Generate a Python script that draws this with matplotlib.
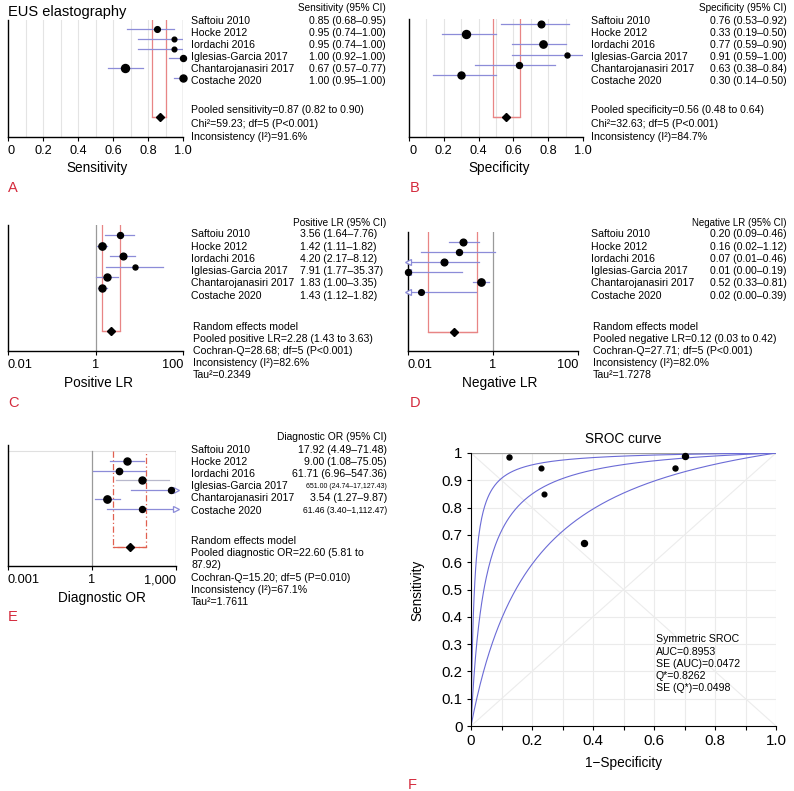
import numpy as np
import matplotlib
matplotlib.use("Agg")
import matplotlib.pyplot as plt

plt.rcParams['font.family'] = ['Liberation Sans', 'DejaVu Sans']

W, H = 794, 791

studies = ["Saftoiu 2010", "Hocke 2012", "Iordachi 2016", "Iglesias-Garcia 2017",
           "Chantarojanasiri 2017", "Costache 2020"]

sens = [0.85, 0.95, 0.95, 1.00, 0.67, 1.00]
sens_lo = [0.68, 0.74, 0.74, 0.92, 0.57, 0.95]
sens_hi = [0.95, 1.00, 1.00, 1.00, 0.77, 1.00]
sens_pool = [0.87, 0.82, 0.90]

spec = [0.76, 0.33, 0.77, 0.91, 0.63, 0.30]
spec_lo = [0.53, 0.19, 0.59, 0.59, 0.38, 0.14]
spec_hi = [0.92, 0.50, 0.90, 1.00, 0.84, 0.50]
spec_pool = [0.56, 0.48, 0.64]

plr = [3.56, 1.42, 4.20, 7.91, 1.83, 1.43]
plr_lo = [1.64, 1.11, 2.17, 1.77, 1.00, 1.12]
plr_hi = [7.76, 1.82, 8.12, 35.37, 3.35, 1.82]
plr_pool = [2.28, 1.43, 3.63]

nlr = [0.20, 0.16, 0.07, 0.01, 0.52, 0.02]
nlr_lo = [0.09, 0.02, 0.01, 0.00, 0.33, 0.00]
nlr_hi = [0.46, 1.12, 0.46, 0.19, 0.81, 0.39]
nlr_pool = [0.12, 0.03, 0.42]

dor = [17.92, 9.00, 61.71, 651.00, 3.54, 61.46]
dor_lo = [4.49, 1.08, 6.96, 24.74, 1.27, 3.40]
dor_hi = [71.48, 75.05, 547.36, 17127.43, 9.87, 1112.47]
dor_pool = [22.60, 5.81, 87.92]

# points on the SROC plot (1-specificity, sensitivity) as drawn
sroc_fpr = [0.24, 0.67, 0.23, 0.125, 0.37, 0.70]
sroc_tpr = [0.85, 0.945, 0.946, 0.987, 0.67, 0.99]

# study weights shown as marker diameters (px)
w_sens = [5.7, 4.7, 4.7, 6, 8, 7]
w_spec = [6.7, 8, 7.3, 5, 6, 7]
w_plr = [6, 7.3, 6.7, 5, 7, 7]
w_nlr = [6.7, 6, 6.7, 6, 7.3, 5.7]
w_dor = [7, 6.3, 7, 6, 7.3, 6]
w_sroc = [4.7, 5, 4.7, 5, 6, 6]

CI = '#8c8cd8'
RED = '#e88585'
LETTER = '#d42a3c'
PXPT = 0.72  # px -> points at dpi 100

fig = plt.figure(figsize=(W / 100, H / 100), dpi=100)


def T(x, y, s, **kw):
    kw.setdefault('va', 'center')
    kw.setdefault('fontsize', 7.6)
    return fig.text(x / W, 1 - y / H, s, **kw)


def forest(rect, xlim, log, est, lo, hi, size, pool, y0, dy, pool_y,
           ticks, ticklabels, line_top=None, pool_ls='-', pool_color=RED,
           grid=None, null=None, ci_colors=None):
    l, t, r, b = rect
    ax = fig.add_axes([l / W, 1 - b / H, (r - l) / W, (b - t) / H])
    if log:
        ax.set_xscale('log')
    ax.set_xlim(*xlim)
    ax.set_ylim(b, t)
    if line_top is None:
        line_top = t
    if grid is not None:
        for g in grid:
            ax.plot([g, g], [t, b], color='#e4e4e4', lw=0.8, zorder=0)
    if null is not None:
        for n in null:
            ax.plot([n, n], [line_top, b], color='#9a9a9a', lw=0.9, zorder=1)
    # pooled estimate box
    ax.plot([pool[1], pool[1], pool[2], pool[2]], [line_top, pool_y, pool_y, line_top],
            color=pool_color, lw=0.9, ls=pool_ls, zorder=1)
    ax.plot([pool[1], pool[2]], [pool_y, pool_y], color=pool_color, lw=0.9, zorder=1)
    ax.plot([pool[0]], [pool_y], marker='D', color='black', ms=4, zorder=4)
    for i in range(len(est)):
        y = y0 + i * dy
        c = CI if ci_colors is None else ci_colors[i]
        a = max(lo[i], xlim[0])
        z = min(hi[i], xlim[1])
        ax.plot([a, z], [y, y], color=c, lw=0.9, zorder=2)
        if log and lo[i] <= xlim[0]:
            ax.plot([xlim[0]], [y], marker='<', ms=5, mfc='white', mec=c, mew=0.9,
                    clip_on=False, zorder=3)
        if log and hi[i] > xlim[1]:
            ax.plot([xlim[1]], [y], marker='>', ms=5, mfc='white', mec=c, mew=0.9,
                    clip_on=False, zorder=3)
        ax.plot([min(est[i], xlim[1]) if not log else max(est[i], xlim[0])], [y],
                marker='o', color='black', ms=size[i] * PXPT, clip_on=False, zorder=5)
    for s in ['top', 'right']:
        ax.spines[s].set_visible(False)
    for s in ['left', 'bottom']:
        ax.spines[s].set_linewidth(1.0)
    ax.set_yticks([])
    ax.minorticks_off()
    ax.set_xticks(ticks)
    ax.set_xticklabels(ticklabels)
    ax.tick_params(axis='x', direction='out', length=3, width=0.8, labelsize=9.2, pad=3)
    labs = ax.get_xticklabels()
    labs[0].set_ha('left')
    if log:
        labs[-1].set_ha('right')
    return ax


lin_ticks = [0, 0.2, 0.4, 0.6, 0.8, 1.0]
lin_labels = ['0', '0.2', '0.4', '0.6', '0.8', '1.0']
grid01 = [i / 10 for i in range(1, 11)]


def fmt(v, l, h):
    return f"{v:,.2f} ({l:,.2f}\u2013{h:,.2f})"


def study_block(xn, xv, y0, dy, vals, lo, hi, ha='right', sizes=None):
    for i, s in enumerate(studies):
        T(xn, y0 + i * dy, s)
        fs = 7.6 if sizes is None else sizes[i]
        T(xv, y0 + i * dy, fmt(vals[i], lo[i], hi[i]), ha=ha, fontsize=fs)


NARROW = ['Liberation Sans Narrow', 'Liberation Sans']

# ---------- A: sensitivity
T(8, 12, 'EUS elastography', fontsize=10.5)
forest((8, 20, 183, 137), (0, 1), False, sens, sens_lo, sens_hi, w_sens, sens_pool,
       29, 9.8, 117, lin_ticks, lin_labels, grid=grid01, null=[1.0])
T(386, 8, 'Sensitivity (95% CI)', ha='right', fontsize=7.2)
study_block(191, 386, 20.7, 12.06, sens, sens_lo, sens_hi)
T(191, 110, 'Pooled sensitivity=0.87 (0.82 to 0.90)')
T(191, 124, 'Chi\u00b2=59.23; df=5 (P<0.001)')
T(191, 137, 'Inconsistency (I\u00b2)=91.6%')
T(97, 168, 'Sensitivity', ha='center', fontsize=9.8)
T(8, 188, 'A', color=LETTER, fontsize=10.5, family=NARROW)

# ---------- B: specificity
forest((409, 19, 583, 137), (0, 1), False, spec, spec_lo, spec_hi, w_spec, spec_pool,
       24, 10.2, 117, lin_ticks, lin_labels, grid=grid01)
T(787, 8, 'Specificity (95% CI)', ha='right', fontsize=7.2)
study_block(591, 787, 20.7, 12.06, spec, spec_lo, spec_hi)
T(591, 110, 'Pooled specificity=0.56 (0.48 to 0.64)')
T(591, 124, 'Chi\u00b2=32.63; df=5 (P<0.001)')
T(591, 137, 'Inconsistency (I\u00b2)=84.7%')
T(499, 168, 'Specificity', ha='center', fontsize=9.8)
T(410, 188, 'B', color=LETTER, fontsize=10.5, family=NARROW)

# ---------- C: positive LR
forest((8, 225, 183, 351), (0.01, 100), True, plr, plr_lo, plr_hi, w_plr, plr_pool,
       235, 10.6, 331, [0.01, 1, 100], ['0.01', '1', '100'], null=[1])
T(386, 223, 'Positive LR (95% CI)', ha='right', fontsize=7.2)
study_block(191, 300, 234.3, 12.3, plr, plr_lo, plr_hi, ha='left')
for k, s in enumerate(['Random effects model', 'Pooled positive LR=2.28 (1.43 to 3.63)',
                       'Cochran-Q=28.68; df=5 (P<0.001)', 'Inconsistency (I\u00b2)=82.6%',
                       'Tau\u00b2=0.2349']):
    T(193, 327 + k * 12, s)
T(99, 383, 'Positive LR', ha='center', fontsize=9.8)
T(8, 403, 'C', color=LETTER, fontsize=10.5, family=NARROW)

# ---------- D: negative LR
forest((408, 232, 578, 351), (0.01, 100), True, nlr, nlr_lo, nlr_hi, w_nlr, nlr_pool,
       242, 10, 332, [0.01, 1, 100], ['0.01', '1', '100'], null=[1])
T(787, 223, 'Negative LR (95% CI)', ha='right', fontsize=7.0)
study_block(591, 787, 234.3, 12.3, nlr, nlr_lo, nlr_hi)
for k, s in enumerate(['Random effects model', 'Pooled negative LR=0.12 (0.03 to 0.42)',
                       'Cochran-Q=27.71; df=5 (P<0.001)', 'Inconsistency (I\u00b2)=82.0%',
                       'Tau\u00b2=1.7278']):
    T(593, 327 + k * 12, s)
T(500, 383, 'Negative LR', ha='center', fontsize=9.8)
T(410, 403, 'D', color=LETTER, fontsize=10.5, family=NARROW)

# ---------- E: diagnostic OR
axE = forest((8, 445, 176, 566), (0.001, 1000), True, dor, dor_lo, dor_hi, w_dor, dor_pool,
             461, 9.6, 547, [0.001, 1, 1000], ['0.001', '1', '1,000'], line_top=451,
             pool_ls=(0, (5, 2, 1, 2)), pool_color='#e06050', null=[1, 1000],
             ci_colors=[CI, CI, '#b8b8cc', CI, CI, CI])
axE.plot([0.001, 1000], [451, 451], color='#e0e0e0', lw=0.8, zorder=0)
T(387, 437, 'Diagnostic OR (95% CI)', ha='right', fontsize=7.4)
study_block(191, 387, 450, 12.1, dor, dor_lo, dor_hi, sizes=[7.6, 7.6, 7.6, 5.0, 7.6, 6.2])
for k, s in enumerate(['Random effects model', 'Pooled diagnostic OR=22.60 (5.81 to', '87.92)',
                       'Cochran-Q=15.20; df=5 (P=0.010)', 'Inconsistency (I\u00b2)=67.1%',
                       'Tau\u00b2=1.7611']):
    T(191, 541.3 + k * 12.1, s)
T(102, 598, 'Diagnostic OR', ha='center', fontsize=9.8)
T(8, 617, 'E', color=LETTER, fontsize=10.5, family=NARROW)

# ---------- F: SROC curve
l, t, r, b = 471, 453, 776, 726
axF = fig.add_axes([l / W, 1 - b / H, (r - l) / W, (b - t) / H])
axF.set_xlim(0, 1)
axF.set_ylim(0, 1)
for g in np.arange(1, 11) / 10:
    axF.axvline(g, color='#ebebeb', lw=0.8, zorder=0)
    axF.axhline(g, color='#ebebeb', lw=0.8, zorder=0)
axF.plot([0, 1], [0, 1], color='#ececec', lw=0.8, zorder=0)
axF.plot([0, 1], [1, 0], color='#ececec', lw=0.8, zorder=0)
axF.axhline(1, color='#a0a0a0', lw=0.9, zorder=1)
# symmetric SROC for the pooled DOR and its 95% CI bounds
fpr = np.linspace(0, 1, 400)
for d in [dor_pool[2], dor_pool[0], dor_pool[1]]:
    tpr = d * fpr / (1 - fpr + d * fpr)
    axF.plot(fpr, tpr, color='#6b6bd6', lw=0.8, zorder=2)
for i in range(len(sroc_fpr)):
    axF.plot(sroc_fpr[i], sroc_tpr[i], marker='o', color='black', ms=w_sroc[i] * PXPT,
             clip_on=False, zorder=5)
for s in ['top', 'right']:
    axF.spines[s].set_visible(False)
axF.set_xticks(np.arange(0, 11) / 10)
axF.set_xticklabels(['0', '', '0.2', '', '0.4', '', '0.6', '', '0.8', '', '1.0'])
axF.set_yticks(np.arange(0, 11) / 10)
axF.set_yticklabels(['0', '0.1', '0.2', '0.3', '0.4', '0.5', '0.6', '0.7', '0.8', '0.9', '1'])
axF.tick_params(direction='out', length=3, width=0.8, labelsize=10.8, pad=3)
T(623.5, 439, 'SROC curve', ha='center', fontsize=9.8)
T(623.5, 763, '1\u2212Specificity', ha='center', fontsize=9.8)
T(417, 590, 'Sensitivity', ha='center', rotation=90, fontsize=9.8)
for k, s in enumerate(['Symmetric SROC', 'AUC=0.8953', 'SE (AUC)=0.0472', 'Q*=0.8262',
                       'SE (Q*)=0.0498']):
    T(656, 639.3 + k * 12.25, s)
T(408, 785, 'F', color=LETTER, fontsize=10.5, family=NARROW)

fig.savefig('out.png', dpi=100)
